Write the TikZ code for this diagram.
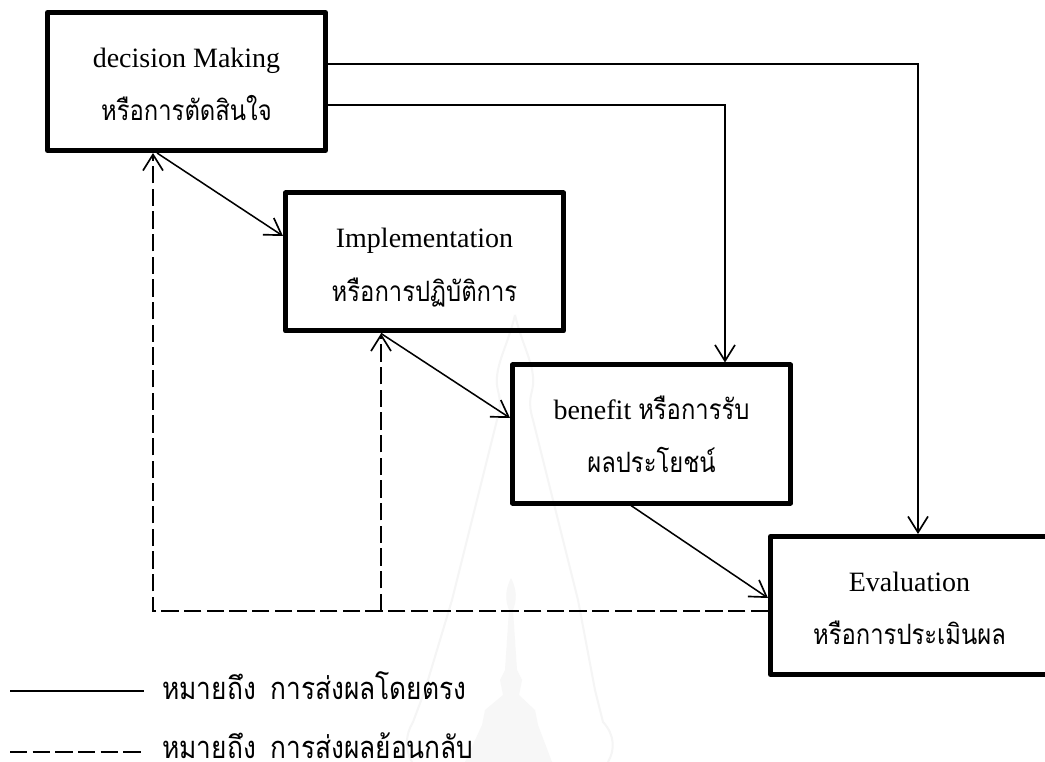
\documentclass[tikz,border=0pt]{standalone}
\usepackage{fontspec}
\setmainfont{Liberation Serif}
\newfontfamily\thaifont[Script=Thai,FakeStretch=0.85]{Loma}
\usetikzlibrary{arrows.meta,calc}
\newcommand{\thx}[1]{{\thaifont\fontsize{21}{21}\selectfont #1}}
\newcommand{\thl}[1]{{\thaifont\fontsize{23.2}{23.2}\selectfont #1}}
% two lines at fixed baseline offsets from the box centre
\newcommand{\twolines}[4]{\makebox[0pt]{\raisebox{#2pt}[0pt][0pt]{#1}}\makebox[0pt]{\raisebox{#4pt}[0pt][0pt]{#3}}}
\tikzset{
  x=0.75pt,y=-0.75pt,
  blockbox/.style={draw=black,line width=3.75pt,minimum width=208.5pt,minimum height=103.5pt,inner sep=0pt,line join=round,font=\fontsize{21}{21}\selectfont},
  legendtext/.style={inner sep=0pt,anchor=base west},
  direct/.style={line width=1.15pt,black,-{Straight Barb[length=12pt,width=15pt,line width=1.25pt]}},
  feedback/.style={direct,dash pattern=on 13pt off 4pt},
  plainline/.style={line width=1.15pt,black},
  plaindash/.style={plainline,dash pattern=on 13pt off 4pt},
  wm/.style={line width=1.5pt,draw=black!4},
}
\begin{document}
\begin{tikzpicture}
\useasboundingbox (0,0) rectangle (1045,762);
\fill[white] (0,0) rectangle (1045,762);
% faint watermark
\draw[wm] (515,315) .. controls (508,345) and (495,365) .. (497,385) .. controls (498,395) and (503,400) .. (497,420) -- (452,600) -- (425,690) -- (413,722) .. controls (405,735) and (405,750) .. (412,762);
\draw[wm] (515,315) .. controls (522,345) and (535,365) .. (533,385) .. controls (532,395) and (527,400) .. (533,420) -- (578,600) -- (595,690) -- (603,722) .. controls (615,735) and (615,750) .. (608,762);
\fill[black!3] (511,578) .. controls (505,590) and (505,600) .. (509,610) -- (505,670) -- (500,680) -- (503,695) -- (485,710) -- (482,725) -- (465,762) -- (552,762) -- (538,725) -- (535,710) -- (519,695) -- (522,680) -- (517,670) -- (513,610) .. controls (517,600) and (517,590) .. (511,578);
% boxes
\node[blockbox] (dm) at (186.5,81.5) {\twolines{decision Making}{10.5}{\thx{หรือการตัดสินใจ}}{-29.25}};
\node[blockbox] (im) at (424.5,262) {\twolines{Implementation}{10.5}{\thx{หรือการปฏิบัติการ}}{-29.5}};
\node[blockbox] (be) at (651.5,434) {\twolines{benefit \thx{หรือการรับ}}{10.5}{\thx{ผลประโยชน์}}{-29}};
\node[blockbox] (ev) at (909.5,605.5) {\twolines{Evaluation}{10.2}{\thx{หรือการประเมินผล}}{-29.6}};
% bend points
\coordinate (c1) at (918,64);
\coordinate (c2) at (725,105);
\coordinate (c3) at (153,611);
\coordinate (c4) at (381,611);
% direct effects
\draw[direct] (dm.east |- c1) -- (c1) -- (c1 |- ev.north);
\draw[direct] (dm.east |- c2) -- (c2) -- (c2 |- be.north);
\draw[direct] ($(dm.south)+(-29.5,0)$) -- ($(im.west)+(0,-26)$);
\draw[direct] (c4 |- im.south) -- ($(be.west)+(0,-16)$);
\draw[direct] ($(be.south)+(-20.5,0)$) -- ($(ev.west)+(0,-7.5)$);
% feedback
\draw[feedback] (ev.west |- c3) -- (c3) -- (c3 |- dm.south);
\draw[feedback] (c4) -- (c4 |- im.south);
% legend
\coordinate (l1a) at (10,691);
\coordinate (l1b) at (144,691);
\coordinate (l2a) at (10,752);
\coordinate (l2b) at (143,752);
\draw[plainline] (l1a) -- (l1b);
\draw[plaindash] (l2a) -- (l2b);
\node[legendtext] (t1) at (162,699) {\thl{หมายถึง\hspace{11pt}การส่งผลโดยตรง}};
\node[legendtext] (t2) at (162,758) {\thl{หมายถึง\hspace{11pt}การส่งผลย้อนกลับ}};
\end{tikzpicture}
\end{document}
